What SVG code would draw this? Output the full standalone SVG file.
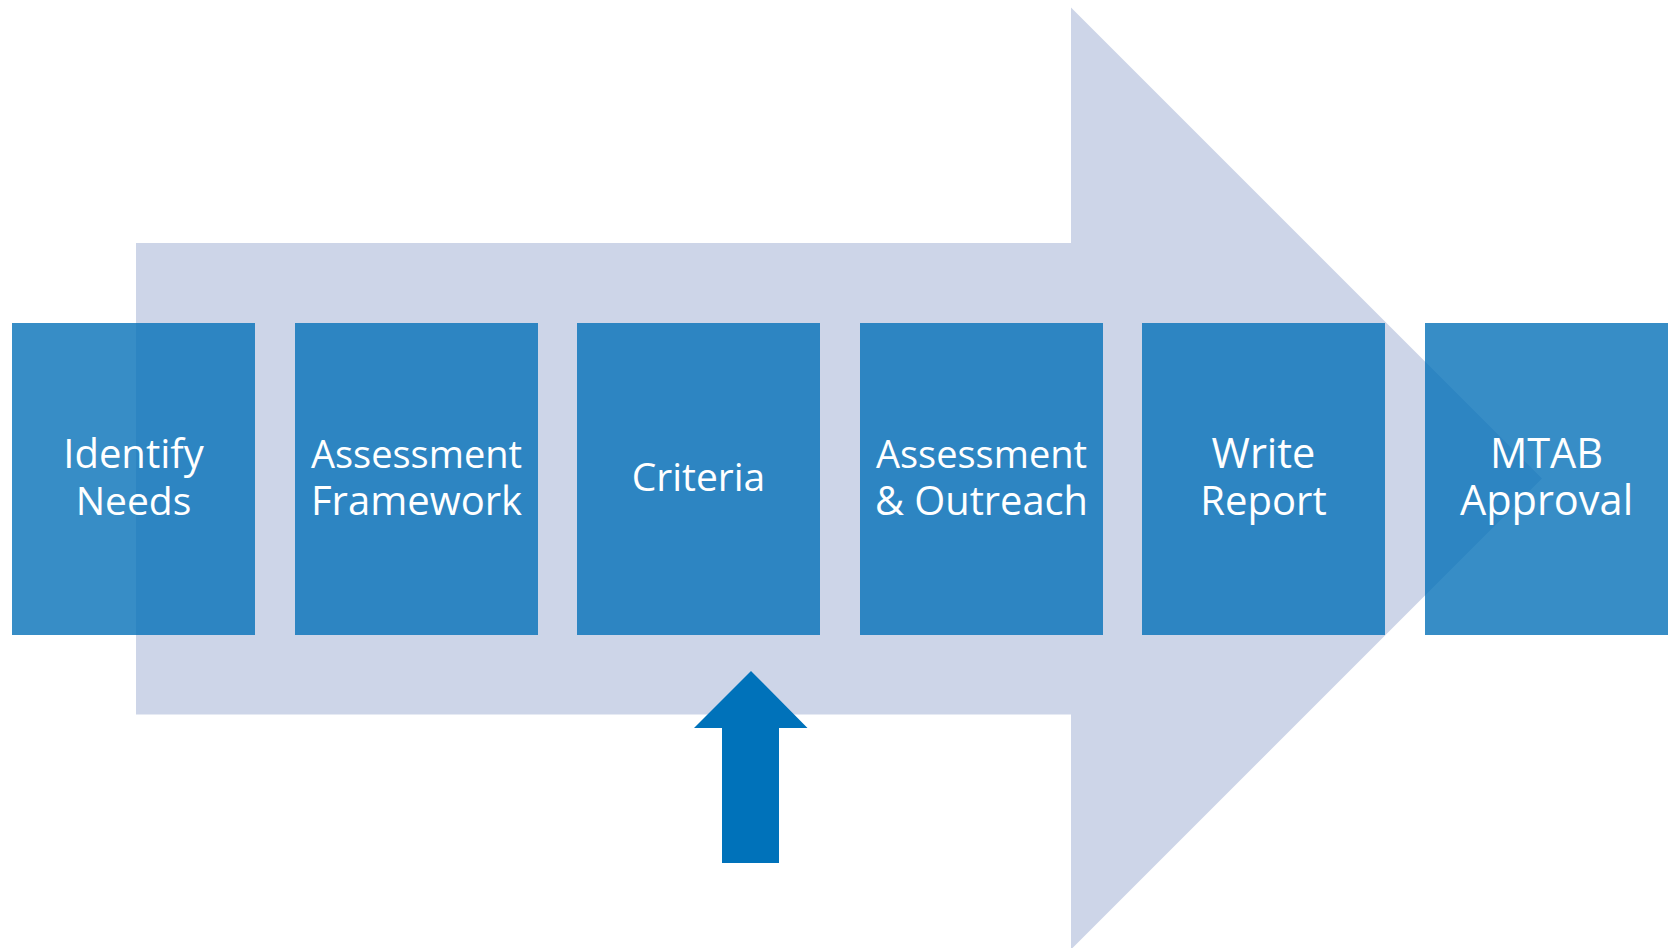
<svg xmlns="http://www.w3.org/2000/svg" width="1669" height="948" viewBox="0 0 1669 948">
<style>
.box{fill:#0571B8;fill-opacity:0.8}
.lbl{font-family:"Open Sans","Noto Sans",sans-serif;font-size:38px;fill:#FFFFFF;text-anchor:middle}
.l2{font-size:40px}
.l3{font-size:41.5px}
</style>
<rect width="1669" height="948" fill="#FFFFFF"/>
<g id="connectors">
<polygon id="big-arrow" points="136,243 1071,243 1071,7.5 1542,478.5 1071,949.5 1071,714.5 136,714.5" fill="#CDD5E8"/>
<polygon id="up-arrow" points="751,671 807.5,728 779,728 779,863 722,863 722,728 694,728" fill="#0072BA"/>
</g>
<g id="n1"><rect class="box" x="12" y="323" width="243" height="312"/><text class="lbl l2" x="133.5" y="468">Identify</text><text class="lbl" x="133.5" y="515" style="font-size:39px">Needs</text></g>
<g id="n2"><rect class="box" x="295" y="323" width="243" height="312"/><text class="lbl" x="416.5" y="468">Assessment</text><text class="lbl l2" x="416.5" y="515">Framework</text></g>
<g id="n3"><rect class="box" x="577" y="323" width="243" height="312"/><text class="lbl" x="698.5" y="491" style="font-size:39px">Criteria</text></g>
<g id="n4"><rect class="box" x="860" y="323" width="243" height="312"/><text class="lbl" x="981.5" y="468">Assessment</text><text class="lbl" x="981.5" y="515" style="font-size:39.8px">&amp; Outreach</text></g>
<g id="n5"><rect class="box" x="1142" y="323" width="243" height="312"/><text class="lbl l3" x="1263.5" y="468">Write</text><text class="lbl" x="1263.5" y="515" style="font-size:40px">Report</text></g>
<g id="n6"><rect class="box" x="1425" y="323" width="243" height="312"/><text class="lbl l3" x="1546.5" y="468">MTAB</text><text class="lbl l3" x="1546.5" y="515">Approval</text></g>
</svg>
